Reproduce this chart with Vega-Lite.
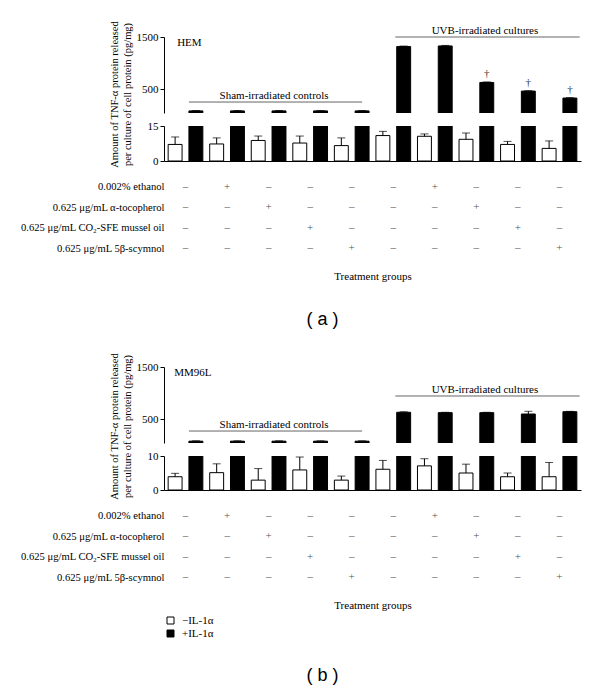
{
"$schema": "https://vega.github.io/schema/vega-lite/v6.json",
"padding": {"left": 20, "top": 20, "right": 5, "bottom": 5},
"config": {
  "view": {"stroke": null},
  "font": "Liberation Serif",
  "style": {"guide-label": {"font": "Liberation Serif", "fill": "black"}, "guide-title": {"font": "Liberation Serif", "fill": "black"}},
  "axis": {"labelFont": "Liberation Serif", "labelFontSize": 11, "labelColor": "black", "titleFont": "Liberation Serif", "titleFontSize": 10.5, "titleFontWeight": "normal", "titleColor": "black", "domainColor": "black", "tickColor": "black", "tickSize": 4, "labelPadding": 2, "grid": false},
  "text": {"font": "Liberation Serif", "fontSize": 11},
  "legend": {"orient": "none", "legendX": 1, "legendY": 578, "title": null, "symbolType": "square", "symbolSize": 49, "symbolStrokeColor": "black", "symbolStrokeWidth": 1, "labelFont": "Liberation Serif", "labelFontSize": 11, "labelColor": "black", "rowPadding": 1, "padding": 0, "labelOffset": 6}
},
"datasets": {
  "bars": [
    {"cell": "HEM", "bar": 1, "group": 1, "il": "−IL-1α", "mean": 7.1, "upper": 10.3, "sig": ""},
    {"cell": "HEM", "bar": 2, "group": 1, "il": "+IL-1α", "mean": 80, "upper": 88, "sig": ""},
    {"cell": "HEM", "bar": 3, "group": 2, "il": "−IL-1α", "mean": 7.3, "upper": 9.9, "sig": ""},
    {"cell": "HEM", "bar": 4, "group": 2, "il": "+IL-1α", "mean": 80, "upper": 88, "sig": ""},
    {"cell": "HEM", "bar": 5, "group": 3, "il": "−IL-1α", "mean": 8.8, "upper": 10.7, "sig": ""},
    {"cell": "HEM", "bar": 6, "group": 3, "il": "+IL-1α", "mean": 80, "upper": 88, "sig": ""},
    {"cell": "HEM", "bar": 7, "group": 4, "il": "−IL-1α", "mean": 7.7, "upper": 10.7, "sig": ""},
    {"cell": "HEM", "bar": 8, "group": 4, "il": "+IL-1α", "mean": 80, "upper": 88, "sig": ""},
    {"cell": "HEM", "bar": 9, "group": 5, "il": "−IL-1α", "mean": 6.6, "upper": 9.9, "sig": ""},
    {"cell": "HEM", "bar": 10, "group": 5, "il": "+IL-1α", "mean": 80, "upper": 88, "sig": ""},
    {"cell": "HEM", "bar": 11, "group": 6, "il": "−IL-1α", "mean": 10.9, "upper": 12.7, "sig": ""},
    {"cell": "HEM", "bar": 12, "group": 6, "il": "+IL-1α", "mean": 1316, "upper": 1326, "sig": ""},
    {"cell": "HEM", "bar": 13, "group": 7, "il": "−IL-1α", "mean": 10.6, "upper": 11.6, "sig": ""},
    {"cell": "HEM", "bar": 14, "group": 7, "il": "+IL-1α", "mean": 1328, "upper": 1338, "sig": ""},
    {"cell": "HEM", "bar": 15, "group": 8, "il": "−IL-1α", "mean": 9.3, "upper": 12.0, "sig": ""},
    {"cell": "HEM", "bar": 16, "group": 8, "il": "+IL-1α", "mean": 627, "upper": 637, "sig": "†"},
    {"cell": "HEM", "bar": 17, "group": 9, "il": "−IL-1α", "mean": 7.1, "upper": 8.4, "sig": ""},
    {"cell": "HEM", "bar": 18, "group": 9, "il": "+IL-1α", "mean": 461, "upper": 469, "sig": "†"},
    {"cell": "HEM", "bar": 19, "group": 10, "il": "−IL-1α", "mean": 5.4, "upper": 8.6, "sig": ""},
    {"cell": "HEM", "bar": 20, "group": 10, "il": "+IL-1α", "mean": 327, "upper": 335, "sig": "†"},
    {"cell": "MM96L", "bar": 1, "group": 1, "il": "−IL-1α", "mean": 3.9, "upper": 4.9, "sig": ""},
    {"cell": "MM96L", "bar": 2, "group": 1, "il": "+IL-1α", "mean": 75, "upper": 82, "sig": ""},
    {"cell": "MM96L", "bar": 3, "group": 2, "il": "−IL-1α", "mean": 5.1, "upper": 7.7, "sig": ""},
    {"cell": "MM96L", "bar": 4, "group": 2, "il": "+IL-1α", "mean": 75, "upper": 82, "sig": ""},
    {"cell": "MM96L", "bar": 5, "group": 3, "il": "−IL-1α", "mean": 2.9, "upper": 6.3, "sig": ""},
    {"cell": "MM96L", "bar": 6, "group": 3, "il": "+IL-1α", "mean": 75, "upper": 82, "sig": ""},
    {"cell": "MM96L", "bar": 7, "group": 4, "il": "−IL-1α", "mean": 5.9, "upper": 9.7, "sig": ""},
    {"cell": "MM96L", "bar": 8, "group": 4, "il": "+IL-1α", "mean": 75, "upper": 82, "sig": ""},
    {"cell": "MM96L", "bar": 9, "group": 5, "il": "−IL-1α", "mean": 2.9, "upper": 4.1, "sig": ""},
    {"cell": "MM96L", "bar": 10, "group": 5, "il": "+IL-1α", "mean": 75, "upper": 82, "sig": ""},
    {"cell": "MM96L", "bar": 11, "group": 6, "il": "−IL-1α", "mean": 6.1, "upper": 8.7, "sig": ""},
    {"cell": "MM96L", "bar": 12, "group": 6, "il": "+IL-1α", "mean": 630, "upper": 640, "sig": ""},
    {"cell": "MM96L", "bar": 13, "group": 7, "il": "−IL-1α", "mean": 7.1, "upper": 9.2, "sig": ""},
    {"cell": "MM96L", "bar": 14, "group": 7, "il": "+IL-1α", "mean": 623, "upper": 630, "sig": ""},
    {"cell": "MM96L", "bar": 15, "group": 8, "il": "−IL-1α", "mean": 5.0, "upper": 7.6, "sig": ""},
    {"cell": "MM96L", "bar": 16, "group": 8, "il": "+IL-1α", "mean": 623, "upper": 630, "sig": ""},
    {"cell": "MM96L", "bar": 17, "group": 9, "il": "−IL-1α", "mean": 3.9, "upper": 5.0, "sig": ""},
    {"cell": "MM96L", "bar": 18, "group": 9, "il": "+IL-1α", "mean": 597, "upper": 649, "sig": ""},
    {"cell": "MM96L", "bar": 19, "group": 10, "il": "−IL-1α", "mean": 3.9, "upper": 8.1, "sig": ""},
    {"cell": "MM96L", "bar": 20, "group": 10, "il": "+IL-1α", "mean": 641, "upper": 648, "sig": ""}
  ],
  "table": [
    {"treatment": "0.002% ethanol", "group": 1, "sign": "–"},
    {"treatment": "0.002% ethanol", "group": 2, "sign": "+"},
    {"treatment": "0.002% ethanol", "group": 3, "sign": "–"},
    {"treatment": "0.002% ethanol", "group": 4, "sign": "–"},
    {"treatment": "0.002% ethanol", "group": 5, "sign": "–"},
    {"treatment": "0.002% ethanol", "group": 6, "sign": "–"},
    {"treatment": "0.002% ethanol", "group": 7, "sign": "+"},
    {"treatment": "0.002% ethanol", "group": 8, "sign": "–"},
    {"treatment": "0.002% ethanol", "group": 9, "sign": "–"},
    {"treatment": "0.002% ethanol", "group": 10, "sign": "–"},
    {"treatment": "0.625 μg/mL α-tocopherol", "group": 1, "sign": "–"},
    {"treatment": "0.625 μg/mL α-tocopherol", "group": 2, "sign": "–"},
    {"treatment": "0.625 μg/mL α-tocopherol", "group": 3, "sign": "+"},
    {"treatment": "0.625 μg/mL α-tocopherol", "group": 4, "sign": "–"},
    {"treatment": "0.625 μg/mL α-tocopherol", "group": 5, "sign": "–"},
    {"treatment": "0.625 μg/mL α-tocopherol", "group": 6, "sign": "–"},
    {"treatment": "0.625 μg/mL α-tocopherol", "group": 7, "sign": "–"},
    {"treatment": "0.625 μg/mL α-tocopherol", "group": 8, "sign": "+"},
    {"treatment": "0.625 μg/mL α-tocopherol", "group": 9, "sign": "–"},
    {"treatment": "0.625 μg/mL α-tocopherol", "group": 10, "sign": "–"},
    {"treatment": "0.625 μg/mL CO₂-SFE mussel oil", "group": 1, "sign": "–"},
    {"treatment": "0.625 μg/mL CO₂-SFE mussel oil", "group": 2, "sign": "–"},
    {"treatment": "0.625 μg/mL CO₂-SFE mussel oil", "group": 3, "sign": "–"},
    {"treatment": "0.625 μg/mL CO₂-SFE mussel oil", "group": 4, "sign": "+"},
    {"treatment": "0.625 μg/mL CO₂-SFE mussel oil", "group": 5, "sign": "–"},
    {"treatment": "0.625 μg/mL CO₂-SFE mussel oil", "group": 6, "sign": "–"},
    {"treatment": "0.625 μg/mL CO₂-SFE mussel oil", "group": 7, "sign": "–"},
    {"treatment": "0.625 μg/mL CO₂-SFE mussel oil", "group": 8, "sign": "–"},
    {"treatment": "0.625 μg/mL CO₂-SFE mussel oil", "group": 9, "sign": "+"},
    {"treatment": "0.625 μg/mL CO₂-SFE mussel oil", "group": 10, "sign": "–"},
    {"treatment": "0.625 μg/mL 5β-scymnol", "group": 1, "sign": "–"},
    {"treatment": "0.625 μg/mL 5β-scymnol", "group": 2, "sign": "–"},
    {"treatment": "0.625 μg/mL 5β-scymnol", "group": 3, "sign": "–"},
    {"treatment": "0.625 μg/mL 5β-scymnol", "group": 4, "sign": "–"},
    {"treatment": "0.625 μg/mL 5β-scymnol", "group": 5, "sign": "+"},
    {"treatment": "0.625 μg/mL 5β-scymnol", "group": 6, "sign": "–"},
    {"treatment": "0.625 μg/mL 5β-scymnol", "group": 7, "sign": "–"},
    {"treatment": "0.625 μg/mL 5β-scymnol", "group": 8, "sign": "–"},
    {"treatment": "0.625 μg/mL 5β-scymnol", "group": 9, "sign": "–"},
    {"treatment": "0.625 μg/mL 5β-scymnol", "group": 10, "sign": "+"}
  ]
},
"bounds": "flush",
"spacing": 13,
"vconcat": [
  {
    "width": 417, "height": 76,
    "layer": [
      {
        "data": {"name": "bars"},
        "transform": [{"filter": "datum.cell === 'HEM' && datum.il === '+IL-1α'"}],
        "mark": {"type": "bar", "clip": true, "stroke": "black", "strokeWidth": 1},
        "encoding": {
          "x": {"field": "bar", "type": "ordinal", "scale": {"domain": [1,2,3,4,5,6,7,8,9,10,11,12,13,14,15,16,17,18,19,20], "paddingInner": 0.33, "paddingOuter": 0.2}, "axis": null},
          "y": {"field": "mean", "type": "quantitative", "scale": {"domain": [40, 1500], "zero": false, "nice": false}, "axis": {"values": [500, 1000, 1500], "format": "d", "labelFont": "Liberation Serif", "titleFont": "Liberation Serif", "title": ["Amount of TNF-α protein released", "per culture of cell protein (pg/mg)"], "titleY": 57, "titlePadding": 4}},
          "fill": {"field": "il", "type": "nominal", "scale": {"domain": ["−IL-1α", "+IL-1α"], "range": ["white", "black"]}}
        }
      },
      {
        "data": {"name": "bars"},
        "transform": [{"filter": "datum.cell === 'HEM' && datum.il === '+IL-1α'"}],
        "mark": {"type": "rule", "color": "black", "strokeWidth": 1},
        "encoding": {
          "x": {"field": "bar", "type": "ordinal"},
          "y": {"field": "mean", "type": "quantitative"},
          "y2": {"field": "upper"}
        }
      },
      {
        "data": {"name": "bars"},
        "transform": [{"filter": "datum.cell === 'HEM' && datum.il === '+IL-1α'"}],
        "mark": {"type": "tick", "color": "black", "size": 8, "thickness": 1},
        "encoding": {
          "x": {"field": "bar", "type": "ordinal"},
          "y": {"field": "upper", "type": "quantitative"}
        }
      },
      {
        "data": {"name": "bars"},
        "transform": [{"filter": "datum.cell === 'HEM' && datum.sig !== ''"}],
        "mark": {"type": "text", "baseline": "bottom", "dy": -3, "fontSize": 11, "color": "#333"},
        "encoding": {
          "x": {"field": "bar", "type": "ordinal"},
          "y": {"field": "upper", "type": "quantitative"},
          "text": {"field": "sig"}
        }
      },
      {
        "data": {"values": [{"label": "Sham-irradiated controls", "from": 2, "to": 10}]},
        "mark": {"type": "rule", "color": "#666", "strokeWidth": 1},
        "encoding": {
          "x": {"field": "from", "type": "ordinal", "bandPosition": 0},
          "x2": {"field": "to", "bandPosition": 0.5},
          "y": {"datum": 251}
        }
      },
      {
        "data": {"values": [{"label": "Sham-irradiated controls", "mid": 6}]},
        "mark": {"type": "text", "baseline": "bottom", "dy": -1, "fontSize": 11, "color": "black"},
        "encoding": {
          "x": {"field": "mid", "type": "ordinal", "bandPosition": 0.15},
          "y": {"datum": 251},
          "text": {"field": "label"}
        }
      },
      {
        "data": {"values": [{"label": "UVB-irradiated cultures", "from": 12, "to": 20}]},
        "mark": {"type": "rule", "color": "#666", "strokeWidth": 1},
        "encoding": {
          "x": {"field": "from", "type": "ordinal", "bandPosition": -0.1},
          "x2": {"field": "to", "bandPosition": 1.2},
          "y": {"datum": 1500}
        }
      },
      {
        "data": {"values": [{"label": "UVB-irradiated cultures", "mid": 16}]},
        "mark": {"type": "text", "baseline": "bottom", "dy": -1, "fontSize": 11, "color": "black"},
        "encoding": {
          "x": {"field": "mid", "type": "ordinal", "bandPosition": 0.37},
          "y": {"datum": 1500},
          "text": {"field": "label"}
        }
      },
      {
        "data": {"values": [{"label": "HEM", "first": 1}]},
        "mark": {"type": "text", "align": "left", "baseline": "middle", "dx": 9, "dy": 6, "fontSize": 11, "color": "black"},
        "encoding": {
          "x": {"field": "first", "type": "ordinal", "bandPosition": 0},
          "y": {"datum": 1500},
          "text": {"field": "label"}
        }
      }
    ]
  },
  {
    "width": 417, "height": 35,
    "layer": [
      {
        "data": {"name": "bars"},
        "transform": [{"filter": "datum.cell === 'HEM'"}],
        "mark": {"type": "bar", "clip": true, "stroke": "black", "strokeWidth": 1},
        "encoding": {
          "x": {"field": "bar", "type": "ordinal", "scale": {"domain": [1,2,3,4,5,6,7,8,9,10,11,12,13,14,15,16,17,18,19,20], "paddingInner": 0.33, "paddingOuter": 0.2}, "axis": {"labels": false, "ticks": false, "title": null, "domain": true}},
          "y": {"field": "mean", "type": "quantitative", "scale": {"domain": [0, 15], "nice": false}, "axis": {"values": [0, 15], "title": null, "labelFont": "Liberation Serif"}},
          "fill": {"field": "il", "type": "nominal", "scale": {"domain": ["−IL-1α", "+IL-1α"], "range": ["white", "black"]}}
        }
      },
      {
        "data": {"name": "bars"},
        "transform": [{"filter": "datum.cell === 'HEM' && datum.il === '−IL-1α'"}],
        "mark": {"type": "rule", "color": "black", "strokeWidth": 1},
        "encoding": {
          "x": {"field": "bar", "type": "ordinal"},
          "y": {"field": "mean", "type": "quantitative"},
          "y2": {"field": "upper"}
        }
      },
      {
        "data": {"name": "bars"},
        "transform": [{"filter": "datum.cell === 'HEM' && datum.il === '−IL-1α'"}],
        "mark": {"type": "tick", "color": "black", "size": 8, "thickness": 1},
        "encoding": {
          "x": {"field": "bar", "type": "ordinal"},
          "y": {"field": "upper", "type": "quantitative"}
        }
      }
    ]
  },
  {
    "width": 417, "height": 87,
    "data": {"name": "table"},
    "mark": {"type": "text", "fontSize": 11, "color": "#555", "baseline": "middle"},
    "encoding": {
      "x": {"field": "group", "type": "ordinal", "scale": {"type": "point", "padding": 0.52, "domain": [1,2,3,4,5,6,7,8,9,10]}, "axis": {"orient": "bottom", "labels": false, "ticks": false, "domain": false, "title": "Treatment groups", "titleFont": "Liberation Serif", "titleFontSize": 11, "titlePadding": 9}},
      "y": {"field": "treatment", "type": "nominal", "sort": ["0.002% ethanol", "0.625 μg/mL α-tocopherol", "0.625 μg/mL CO₂-SFE mussel oil", "0.625 μg/mL 5β-scymnol"], "scale": {"type": "point", "padding": 0.607}, "axis": {"title": null, "domain": false, "ticks": false, "tickSize": 0, "labelPadding": 0, "labelFont": "Liberation Serif", "labelFontSize": 10.6}},
      "text": {"field": "sign"}
    }
  },
  {
    "width": 417, "height": 80,
    "data": {"values": [{"caption": "( a )"}]},
    "mark": {"type": "text", "font": "Liberation Sans", "fontSize": 18, "color": "black", "dx": -50, "dy": 6},
    "encoding": {"text": {"field": "caption"}}
  },
  {
    "width": 417, "height": 76,
    "layer": [
      {
        "data": {"name": "bars"},
        "transform": [{"filter": "datum.cell === 'MM96L' && datum.il === '+IL-1α'"}],
        "mark": {"type": "bar", "clip": true, "stroke": "black", "strokeWidth": 1},
        "encoding": {
          "x": {"field": "bar", "type": "ordinal", "scale": {"domain": [1,2,3,4,5,6,7,8,9,10,11,12,13,14,15,16,17,18,19,20], "paddingInner": 0.33, "paddingOuter": 0.2}, "axis": null},
          "y": {"field": "mean", "type": "quantitative", "scale": {"domain": [40, 1500], "zero": false, "nice": false}, "axis": {"values": [500, 1000, 1500], "format": "d", "labelFont": "Liberation Serif", "titleFont": "Liberation Serif", "title": ["Amount of TNF-α protein released", "per culture of cell protein (pg/mg)"], "titleY": 59, "titlePadding": 4}},
          "fill": {"field": "il", "type": "nominal", "scale": {"domain": ["−IL-1α", "+IL-1α"], "range": ["white", "black"]}}
        }
      },
      {
        "data": {"name": "bars"},
        "transform": [{"filter": "datum.cell === 'MM96L' && datum.il === '+IL-1α'"}],
        "mark": {"type": "rule", "color": "black", "strokeWidth": 1},
        "encoding": {
          "x": {"field": "bar", "type": "ordinal"},
          "y": {"field": "mean", "type": "quantitative"},
          "y2": {"field": "upper"}
        }
      },
      {
        "data": {"name": "bars"},
        "transform": [{"filter": "datum.cell === 'MM96L' && datum.il === '+IL-1α'"}],
        "mark": {"type": "tick", "color": "black", "size": 8, "thickness": 1},
        "encoding": {
          "x": {"field": "bar", "type": "ordinal"},
          "y": {"field": "upper", "type": "quantitative"}
        }
      },
      {
        "data": {"values": [{"label": "Sham-irradiated controls", "from": 2, "to": 10}]},
        "mark": {"type": "rule", "color": "#666", "strokeWidth": 1},
        "encoding": {
          "x": {"field": "from", "type": "ordinal", "bandPosition": 0},
          "x2": {"field": "to", "bandPosition": 0.5},
          "y": {"datum": 270}
        }
      },
      {
        "data": {"values": [{"label": "Sham-irradiated controls", "mid": 6}]},
        "mark": {"type": "text", "baseline": "bottom", "dy": -1, "fontSize": 11, "color": "black"},
        "encoding": {
          "x": {"field": "mid", "type": "ordinal", "bandPosition": 0.15},
          "y": {"datum": 270},
          "text": {"field": "label"}
        }
      },
      {
        "data": {"values": [{"label": "UVB-irradiated cultures", "from": 12, "to": 20}]},
        "mark": {"type": "rule", "color": "#666", "strokeWidth": 1},
        "encoding": {
          "x": {"field": "from", "type": "ordinal", "bandPosition": -0.1},
          "x2": {"field": "to", "bandPosition": 1.2},
          "y": {"datum": 943}
        }
      },
      {
        "data": {"values": [{"label": "UVB-irradiated cultures", "mid": 16}]},
        "mark": {"type": "text", "baseline": "bottom", "dy": -1, "fontSize": 11, "color": "black"},
        "encoding": {
          "x": {"field": "mid", "type": "ordinal", "bandPosition": 0.37},
          "y": {"datum": 943},
          "text": {"field": "label"}
        }
      },
      {
        "data": {"values": [{"label": "MM96L", "first": 1}]},
        "mark": {"type": "text", "align": "left", "baseline": "middle", "dx": 6, "dy": 6, "fontSize": 11, "color": "black"},
        "encoding": {
          "x": {"field": "first", "type": "ordinal", "bandPosition": 0},
          "y": {"datum": 1500},
          "text": {"field": "label"}
        }
      }
    ]
  },
  {
    "width": 417, "height": 34,
    "layer": [
      {
        "data": {"name": "bars"},
        "transform": [{"filter": "datum.cell === 'MM96L'"}],
        "mark": {"type": "bar", "clip": true, "stroke": "black", "strokeWidth": 1},
        "encoding": {
          "x": {"field": "bar", "type": "ordinal", "scale": {"domain": [1,2,3,4,5,6,7,8,9,10,11,12,13,14,15,16,17,18,19,20], "paddingInner": 0.33, "paddingOuter": 0.2}, "axis": {"labels": false, "ticks": false, "title": null, "domain": true}},
          "y": {"field": "mean", "type": "quantitative", "scale": {"domain": [0, 10], "nice": false}, "axis": {"values": [0, 10], "title": null, "labelFont": "Liberation Serif"}},
          "fill": {"field": "il", "type": "nominal", "scale": {"domain": ["−IL-1α", "+IL-1α"], "range": ["white", "black"]}}
        }
      },
      {
        "data": {"name": "bars"},
        "transform": [{"filter": "datum.cell === 'MM96L' && datum.il === '−IL-1α'"}],
        "mark": {"type": "rule", "color": "black", "strokeWidth": 1},
        "encoding": {
          "x": {"field": "bar", "type": "ordinal"},
          "y": {"field": "mean", "type": "quantitative"},
          "y2": {"field": "upper"}
        }
      },
      {
        "data": {"name": "bars"},
        "transform": [{"filter": "datum.cell === 'MM96L' && datum.il === '−IL-1α'"}],
        "mark": {"type": "tick", "color": "black", "size": 8, "thickness": 1},
        "encoding": {
          "x": {"field": "bar", "type": "ordinal"},
          "y": {"field": "upper", "type": "quantitative"}
        }
      }
    ]
  },
  {
    "width": 417, "height": 87,
    "data": {"name": "table"},
    "mark": {"type": "text", "fontSize": 11, "color": "#555", "baseline": "middle"},
    "encoding": {
      "x": {"field": "group", "type": "ordinal", "scale": {"type": "point", "padding": 0.52, "domain": [1,2,3,4,5,6,7,8,9,10]}, "axis": {"orient": "bottom", "labels": false, "ticks": false, "domain": false, "title": "Treatment groups", "titleFont": "Liberation Serif", "titleFontSize": 11, "titlePadding": 9}},
      "y": {"field": "treatment", "type": "nominal", "sort": ["0.002% ethanol", "0.625 μg/mL α-tocopherol", "0.625 μg/mL CO₂-SFE mussel oil", "0.625 μg/mL 5β-scymnol"], "scale": {"type": "point", "padding": 0.607}, "axis": {"title": null, "domain": false, "ticks": false, "tickSize": 0, "labelPadding": 0, "labelFont": "Liberation Serif", "labelFontSize": 10.6}},
      "text": {"field": "sign"}
    }
  },
  {
    "width": 417, "height": 80,
    "data": {"values": [{"caption": "( b )"}]},
    "mark": {"type": "text", "font": "Liberation Sans", "fontSize": 18, "color": "black", "dx": -50, "dy": 33},
    "encoding": {"text": {"field": "caption"}}
  }
]
}
